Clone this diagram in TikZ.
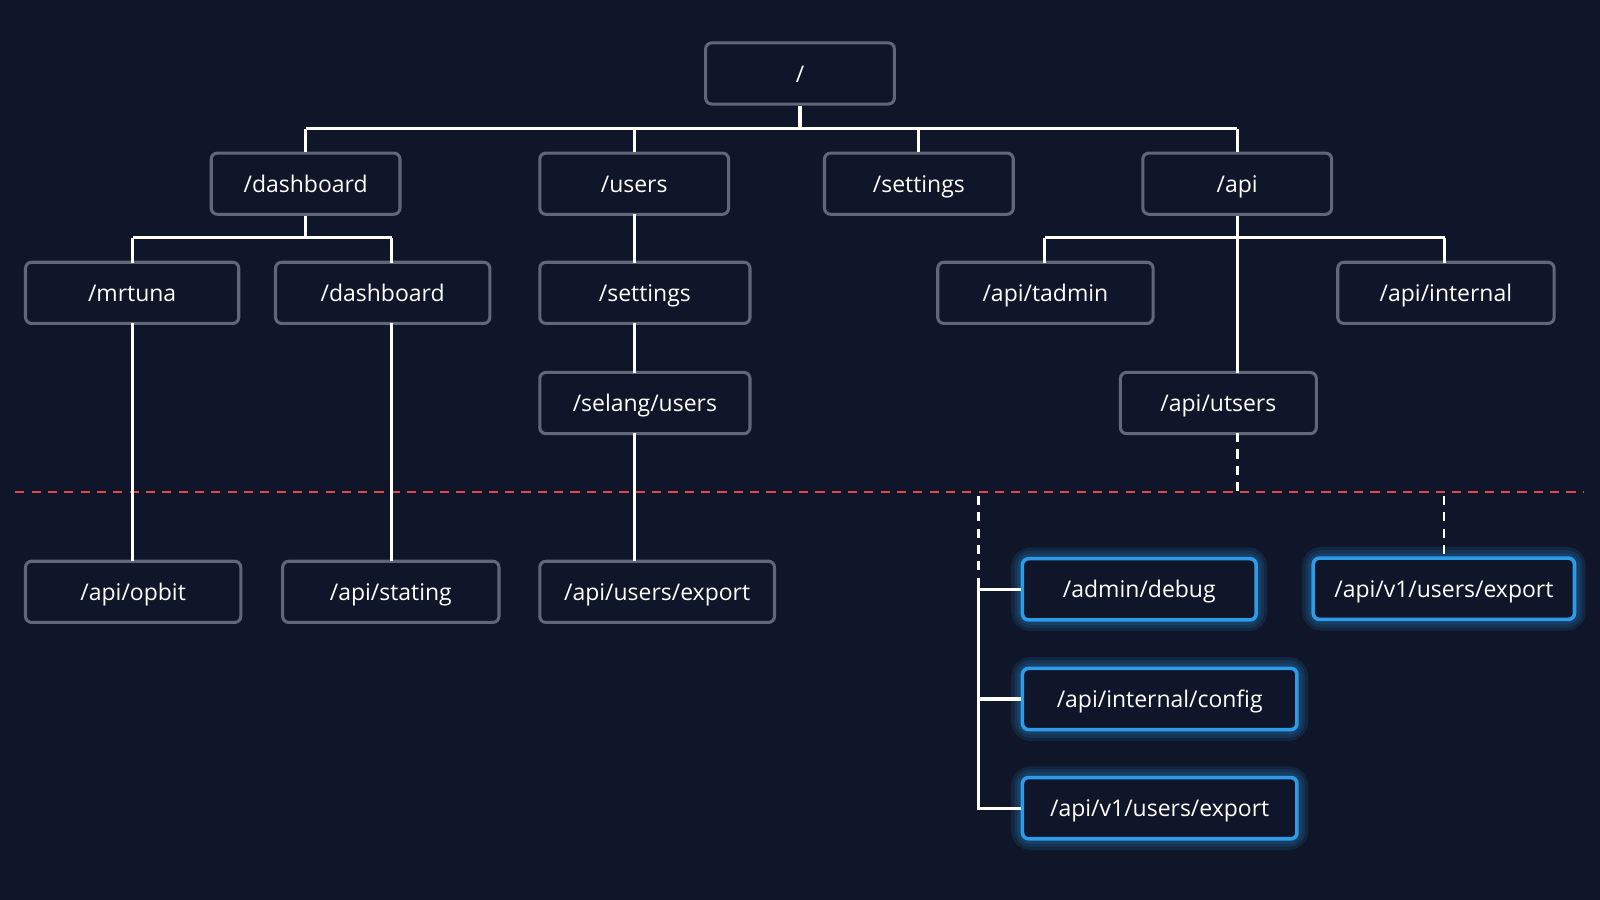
\documentclass[tikz,border=0pt]{standalone}
\usepackage{fontspec}
\setmainfont{Open Sans}
\begin{document}
\definecolor{bg}{HTML}{0F1629}
\definecolor{bd}{HTML}{5F6778}
\definecolor{bl}{HTML}{2E9BEA}
\definecolor{rd}{HTML}{E04848}
\begin{tikzpicture}[x=1pt,y=-1pt,
  box/.style={draw=bd,line width=3pt,rounded corners=6pt,fill=bg,text=white,
    minimum height=60pt,inner sep=0pt,text height=17pt,text depth=0pt,
    font=\fontsize{22.5}{26}\selectfont},
  hot/.style={box,draw=bl,line width=3.5pt},
  ln/.style={white,line width=3pt},
  dl/.style={white,line width=2.5pt,dash pattern=on 9pt off 7pt},
  glow/.style={bl,rounded corners=8pt,line width=#1,opacity=0.12}]
\fill[bg] (0,0) rectangle (1568,882);
\useasboundingbox (0,0) rectangle (1568,882);
% glows
\foreach \x/\y/\w in {1116.5/577.5/229, 1415/577/256, 1136.5/685/269, 1136.5/792/269}{
  \foreach \lw in {22,16,10}{
    \draw[glow=\lw pt] (\x-\w/2,\y-30) rectangle (\x+\w/2,\y+30);}}
% edges
\coordinate (rb) at (784,126);
\draw[ln] (299.5,126) -- (1212.5,126);
\draw[dl,rd] (15,482) -- (1552,482);
\node[box,minimum width=185pt] (root) at (784,72) {/};
\node[box,minimum width=185pt] (dash) at (299.5,180) {/dashboard};
\node[box,minimum width=185pt] (users) at (621.5,180) {/users};
\node[box,minimum width=185pt] (sett) at (900.5,180) {/settings};
\node[box,minimum width=185pt] (api) at (1212.5,180) {/api};
\node[box,minimum width=209pt] (mr) at (129.5,287) {/mrtuna};
\node[box,minimum width=210pt] (dash2) at (375,287) {/dashboard};
\node[box,minimum width=206pt] (sett2) at (632,287) {/settings};
\node[box,minimum width=211pt] (tadm) at (1024.5,287) {/api/tadmin};
\node[box,minimum width=212pt] (aint) at (1417,287) {/api/internal};
\node[box,minimum width=206pt] (sel) at (632,395) {/selang/users};
\node[box,minimum width=192pt] (ut) at (1194,395) {/api/utsers};
\node[box,minimum width=211pt] (opb) at (130.5,580) {/api/opbit};
\node[box,minimum width=212pt] (stat) at (383,580) {/api/stating};
\node[box,minimum width=230pt] (uexp) at (644,580) {/api/users/export};
\node[hot,minimum width=229pt] (dbg) at (1116.5,577.5) {/admin/debug};
\node[hot,minimum width=256pt] (v1a) at (1415,577) {/api/v1/users/export};
\node[hot,minimum width=269pt] (cfg) at (1136.5,685) {/api/internal/config};
\node[hot,minimum width=269pt] (v1b) at (1136.5,792) {/api/v1/users/export};
% connectors
\draw[ln] (root.south) -- (rb);
\foreach \n in {dash,users,sett,api}{\draw[ln] (\n.north) -- (\n.north|-rb);}
\draw[ln] (dash.south) -- ++(0,23);
\draw[ln] (130,233) -- (384,233);
\draw[ln] (130,233) -- (130,257.5);
\draw[ln] (384,233) -- (384,257.5);
\draw[ln] (130,316.5) -- (130,550);
\draw[ln] (384,316.5) -- (384,550);
\draw[ln] (621.5,210) -- (621.5,257.5);
\draw[ln] (621.5,316.5) -- (621.5,365.5);
\draw[ln] (621.5,424.5) -- (621.5,550);
\draw[ln] (1024,233) -- (1416,233);
\draw[ln] (1024,233) -- (1024,257.5);
\draw[ln] (1416,233) -- (1416,257.5);
\draw[ln] (api.south) -- (1212.5,365.5);
\draw[dl] (1212.5,424.5) -- (1212.5,482);
\draw[dl] (959,486) -- (959,570);
\draw[dl] (1415,486) -- (1415,547);
\draw[ln] (959,570) -- (959,792) -- (v1b.west);
\draw[ln] (959,577.5) -- (dbg.west);
\draw[ln] (959,685) -- (cfg.west);
\end{tikzpicture}
\end{document}
